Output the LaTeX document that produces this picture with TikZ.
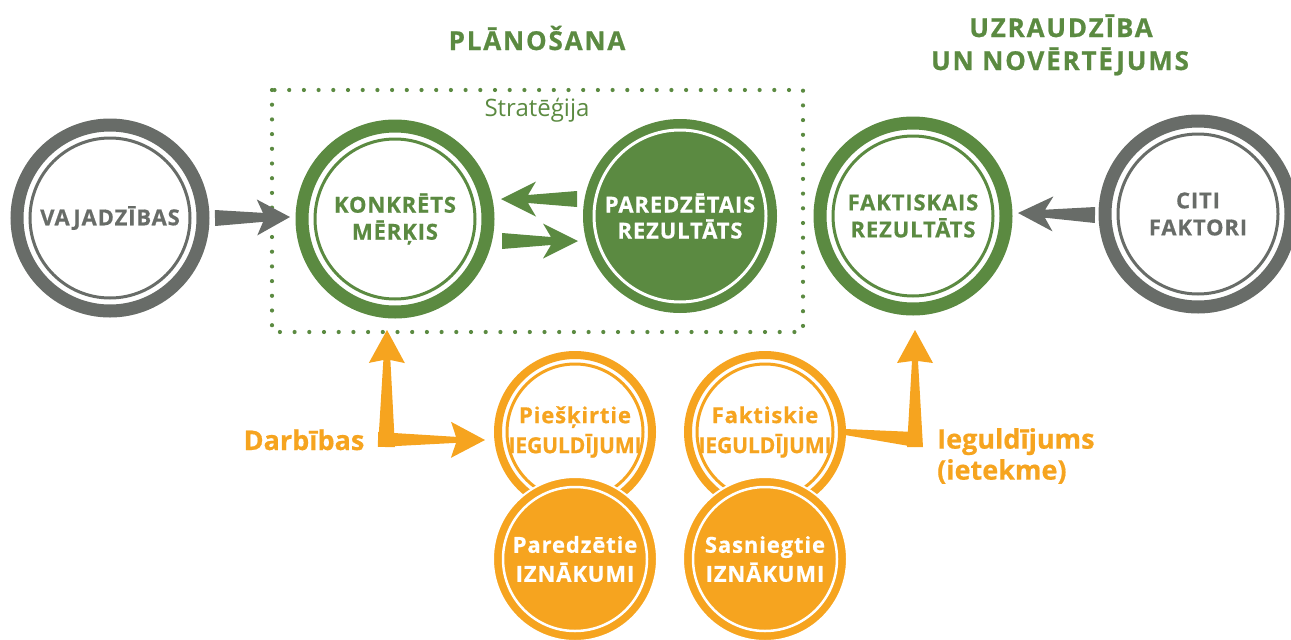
\documentclass[tikz,border=0pt]{standalone}
\usepackage{fontspec}
\setmainfont{Open Sans}
\newfontfamily\lbl{Open Sans}[LetterSpace=4,FakeBold=0.6]
\newfontfamily\lblN{Open Sans}[FakeBold=0.6]
\newfontfamily\lblC{Open Sans}[FakeBold=0.6,FakeStretch=0.95]
\newfontfamily\lblR{Open Sans}
\newfontfamily\ttl{Open Sans}[LetterSpace=7,FakeBold=0.8]
\usetikzlibrary{calc}
\definecolor{cgreen}{HTML}{5B8A41}
\definecolor{cgrey}{HTML}{686C68}
\definecolor{corange}{HTML}{F6A41F}
% tapered arrow: from, to, start half width, shaft half width at junction, junction distance from tip, head length, head half width, colour
\newcommand\taper[8]{%
  \fill[#8] ($(#1)!#3!90:(#2)$)
    -- ($($(#2)!#5!(#1)$)!#4!90:(#2)$)
    -- ($($(#2)!#6!(#1)$)!#7!90:(#2)$)
    -- (#2)
    -- ($($(#2)!#6!(#1)$)!#7!-90:(#2)$)
    -- ($($(#2)!#5!(#1)$)!#4!-90:(#2)$)
    -- ($(#1)!#3!-90:(#2)$) -- cycle;}
\begin{document}
\begin{tikzpicture}[x=1pt,y=-1pt,
  bigring/.style={circle, inner sep=0pt, minimum size=186pt, line width=13pt,
    draw=#1, fill=white, text=#1, align=center,
    font=\lbl\bfseries\fontsize{22}{27}\selectfont,
    path picture={\draw[#1, line width=3pt] (path picture bounding box.center) circle[radius=80pt];}},
  filledring/.style={circle, inner sep=0pt, minimum size=194pt, fill=cgreen,
    text=white, align=center, font=\lbl\bfseries\fontsize{22}{26}\selectfont,
    path picture={\draw[white, line width=3pt] (path picture bounding box.center) circle[radius=86pt];}},
  orring/.style={circle, inner sep=0pt, minimum size=154pt, line width=8pt,
    draw=corange, fill=white, text=corange, align=center,
    font=\lbl\bfseries\fontsize{22}{30}\selectfont,
    path picture={\draw[corange, line width=3pt] (path picture bounding box.center) circle[radius=68pt];}},
  orfill/.style={circle, inner sep=0pt, minimum size=164pt, line width=2pt,
    draw=white, fill=corange, text=white, align=center,
    font=\lbl\bfseries\fontsize{22}{29}\selectfont,
    path picture={\draw[white, line width=2.5pt] (path picture bounding box.center) circle[radius=72pt];}},
  title/.style={text=cgreen, font=\ttl\bfseries\fontsize{26}{33}\selectfont, inner sep=0pt},
  side/.style={text=corange, font=\lblN\bfseries\fontsize{27}{31}\selectfont, inner sep=0pt, align=left}
]
\useasboundingbox (0,0) rectangle (1291,640);

% dotted strategy frame
\draw[cgreen, line width=4.2pt, line cap=round, dash pattern=on 0pt off 14.7pt]
  (272,90) rectangle (803,332);
\node[text=cgreen, font=\lblR\fontsize{24}{28}\selectfont, inner sep=0pt, anchor=base] (strat) at (537,116) {Stratēģija};

% titles
\node[title, anchor=base] (plan) at (537,50) {PLĀNOŠANA};
\node[title, anchor=base] (uzr1) at (1061,37) {UZRAUDZĪBA};
\node[title, anchor=base] (uzr2) at (1060,70) {UN NOVĒRTĒJUMS};

% big circles
\node[bigring=cgrey] (vaj) at (110,218) {VAJADZĪBAS};
\node[bigring=cgreen] (konk) at (395,219) {KONKRĒTS\\MĒRĶIS};
\node[filledring] (par) at (680,216) {PAREDZĒTAIS\\REZULTĀTS};
\node[bigring=cgreen] (fak) at (913,216) {FAKTISKAIS\\REZULTĀTS};
\node[bigring=cgrey] (citi) at (1198,214) {CITI\\FAKTORI};

% orange circles
\node[orring] (pies) at (575,432) {Piešķirtie\\{\lblC\bfseries IEGULDĪJUMI}};
\node[orfill] (pred) at (575,559) {Paredzētie\\IZNĀKUMI};
\node[orring] (fakt) at (765,432) {Faktiskie\\{\lblC\bfseries IEGULDĪJUMI}};
\node[orfill] (sasn) at (765,559) {Sasniegtie\\IZNĀKUMI};

% side labels
\node[side, anchor=base] (darb) at (304,450) {Darbības};
\node[side, anchor=west] (iegul) at (937,456) {Ieguldījums\\(ietekme)};

% connector end points
\coordinate (a1s) at ($(vaj.center)+(105,0)$);
\coordinate (a1e) at ($(konk.center)+(-105,-2)$);
\coordinate (a2s) at ($(par.center)+(-103,-17)$);
\coordinate (a2e) at ($(konk.center)+(106,-20)$);
\coordinate (a3s) at ($(konk.center)+(107,22)$);
\coordinate (a3e) at ($(par.center)+(-102,25)$);
\coordinate (a4s) at ($(citi.center)+(-103,1)$);
\coordinate (a4e) at ($(fak.center)+(105,-3)$);
\coordinate (lv) at ($(pies.center)+(-188.5,15)$);
\coordinate (lvt) at ($(konk.center)+(-8,111)$);
\coordinate (lh) at ($(pies.center)+(-197,7.5)$);
\coordinate (lht) at ($(pies.center)+(-90,8)$);
\coordinate (rv) at ($(fakt.center)+(150,15)$);
\coordinate (rvt) at ($(fak.center)+(2,114)$);

% arrows
\taper{a1s}{a1e}{8pt}{4.5pt}{27pt}{33pt}{18pt}{cgrey}
\taper{a2s}{a2e}{8pt}{4pt}{27pt}{35pt}{17.5pt}{cgreen}
\taper{a3s}{a3e}{8pt}{4pt}{27pt}{35pt}{17.5pt}{cgreen}
\taper{a4s}{a4e}{8pt}{4pt}{27pt}{35pt}{17.5pt}{cgrey}
\taper{lv}{lvt}{8.5pt}{3.5pt}{30pt}{33pt}{18pt}{corange}
\taper{lh}{lht}{7.5pt}{3pt}{29pt}{34pt}{18pt}{corange}
\fill[corange] ($(fakt.east)+(-1,-3)$) -- ($(rv)+(0,-15)$) -- (rv) -- ($(fakt.east)+(-1,3)$) -- cycle;
\taper{rv}{rvt}{8pt}{3pt}{31pt}{33pt}{18pt}{corange}
\end{tikzpicture}
\end{document}
